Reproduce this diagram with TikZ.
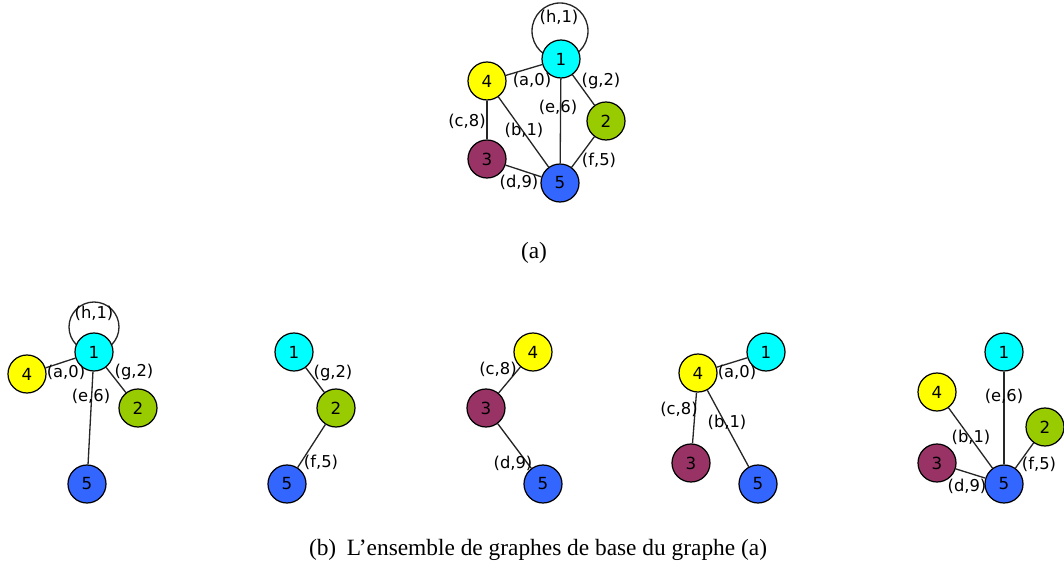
\documentclass[tikz,border=0pt]{standalone}
\usepackage{fontspec}
\setmainfont{Liberation Serif}
\newfontfamily\graphfont{DejaVu Sans}
\usetikzlibrary{backgrounds}
\definecolor{vcyan}{HTML}{00FFFF}
\definecolor{vyellow}{HTML}{FFFF00}
\definecolor{vgreen}{HTML}{99CC00}
\definecolor{vplum}{HTML}{993366}
\definecolor{vblue}{HTML}{3366FF}
\tikzset{
    vertex/.style={
        circle,
        draw=black,
        line width=0.7pt,
        minimum size=0.76cm,
        inner sep=0pt,
        font=\graphfont\fontsize{9.5}{10}\selectfont
    },
    vone/.style={vertex,fill=vcyan},
    vtwo/.style={vertex,fill=vgreen},
    vthree/.style={vertex,fill=vplum},
    vfour/.style={vertex,fill=vyellow},
    vfive/.style={vertex,fill=vblue},
    edge/.style={
        line width=0.75pt,
        color=black!85
    },
    edgelabel/.style={
        font=\graphfont\fontsize{9.3}{10}\selectfont,
        inner sep=1pt
    },
    caption/.style={
        font=\fontsize{13.3}{15}\selectfont
    }
}

\begin{document}
\begin{tikzpicture}[x=0.02cm,y=-0.02cm]

    \useasboundingbox (0,0) rectangle (1064,570);

    % Graphe (a)
    \node[vone]   (a1) at (561,59)  {1};
    \node[vtwo]   (a2) at (606,121) {2};
    \node[vthree] (a3) at (487,159) {3};
    \node[vfour]  (a4) at (487,81)  {4};
    \node[vfive]  (a5) at (560,183) {5};

    \begin{scope}[on background layer]
        \draw[edge] (560,31) circle (28);
    \end{scope}

    \draw[edge] (a1) -- (a4);
    \draw[edge] (a1) -- (a2);
    \draw[edge] (a1) -- (a5);
    \draw[edge] (a4) -- (a3);
    \draw[edge] (a4) -- (a5);
    \draw[edge] (a2) -- (a5);
    \draw[edge] (a3) -- (a5);

    \node[edgelabel] (ah) at (559,17)  {(h,1)};
    \node[edgelabel] (aa) at (532,80)  {(a,0)};
    \node[edgelabel] (ag) at (601,81)  {(g,2)};
    \node[edgelabel] (ae) at (558,107) {(e,6)};
    \node[edgelabel] (ac) at (467,121) {(c,8)};
    \node[edgelabel] (ab) at (524,130) {(b,1)};
    \node[edgelabel] (af) at (599,160) {(f,5)};
    \node[edgelabel] (ad) at (519,182) {(d,9)};

    \node[caption] (capa) at (534,253) {(a)};

    % Graphe de base du sommet 1
    \node[vone]  (p1) at (94,352)  {1};
    \node[vtwo]  (p2) at (138,408) {2};
    \node[vfour] (p4) at (27,374)  {4};
    \node[vfive] (p5) at (87,484)  {5};

    \begin{scope}[on background layer]
        \draw[edge] (94,327) circle (25);
    \end{scope}

    \draw[edge] (p1) -- (p4);
    \draw[edge] (p1) -- (p2);
    \draw[edge] (p1) -- (p5);

    \node[edgelabel] (ph) at (94,313)  {(h,1)};
    \node[edgelabel] (pa) at (66,372)  {(a,0)};
    \node[edgelabel] (pg) at (134,372) {(g,2)};
    \node[edgelabel] (pe) at (91,396)  {(e,6)};

    % Graphe de base du sommet 2
    \node[vone]  (q1) at (294,352) {1};
    \node[vtwo]  (q2) at (336,408) {2};
    \node[vfive] (q5) at (287,484) {5};

    \draw[edge] (q1) -- (q2);
    \draw[edge] (q2) -- (q5);

    \node[edgelabel] (qg) at (333,373) {(g,2)};
    \node[edgelabel] (qf) at (321,462) {(f,5)};

    % Graphe de base du sommet 3
    \node[vthree] (r3) at (486,408) {3};
    \node[vfour]  (r4) at (533,352) {4};
    \node[vfive]  (r5) at (543,484) {5};

    \draw[edge] (r4) -- (r3);
    \draw[edge] (r3) -- (r5);

    \node[edgelabel] (rc) at (498,369) {(c,8)};
    \node[edgelabel] (rd) at (513,463) {(d,9)};

    % Graphe de base du sommet 4
    \node[vone]   (s1) at (766,352) {1};
    \node[vthree] (s3) at (691,463) {3};
    \node[vfour]  (s4) at (698,373) {4};
    \node[vfive]  (s5) at (758,484) {5};

    \draw[edge] (s4) -- (s1);
    \draw[edge] (s4) -- (s3);
    \draw[edge] (s4) -- (s5);

    \node[edgelabel] (sa) at (737,372) {(a,0)};
    \node[edgelabel] (sc) at (679,409) {(c,8)};
    \node[edgelabel] (sb) at (727,422) {(b,1)};

    % Graphe de base du sommet 5
    \node[vone]   (t1) at (1004,352) {1};
    \node[vtwo]   (t2) at (1045,427) {2};
    \node[vthree] (t3) at (937,463)  {3};
    \node[vfour]  (t4) at (937,392)  {4};
    \node[vfive]  (t5) at (1004,484) {5};

    \draw[edge] (t1) -- (t5);
    \draw[edge] (t4) -- (t5);
    \draw[edge] (t2) -- (t5);
    \draw[edge] (t3) -- (t5);

    \node[edgelabel] (te) at (1004,396) {(e,6)};
    \node[edgelabel] (tb) at (971,437)  {(b,1)};
    \node[edgelabel] (tf) at (1039,464) {(f,5)};
    \node[edgelabel] (td) at (967,486)  {(d,9)};

    % Legende
    \node[caption] (capb) at (538,550)
        {(b)\hspace{0.45em}L’ensemble de graphes de base du graphe (a)};

\end{tikzpicture}
\end{document}
